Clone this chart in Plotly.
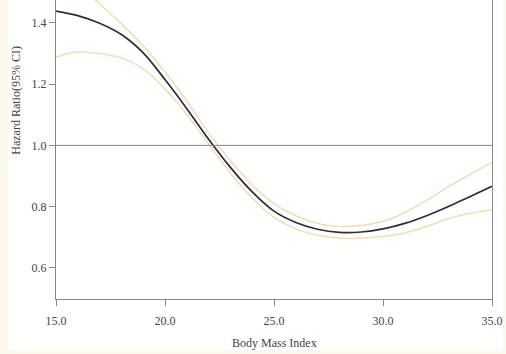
import plotly.graph_objects as go

bmi = [15, 16, 17, 18, 19, 20, 21, 22, 23, 24, 25, 26, 27, 28, 29, 30, 31, 32, 33, 34, 35]
hr = [1.439, 1.424, 1.399, 1.362, 1.302, 1.215, 1.12, 1.02, 0.928, 0.848, 0.785, 0.748, 0.726,
      0.716, 0.717, 0.727, 0.745, 0.77, 0.80, 0.833, 0.866]
upper = [1.57, 1.52, 1.462, 1.397, 1.325, 1.24, 1.145, 1.04, 0.95, 0.87, 0.81, 0.77, 0.745,
         0.735, 0.738, 0.752, 0.78, 0.82, 0.865, 0.905, 0.944]
lower = [1.289, 1.305, 1.30, 1.285, 1.25, 1.185, 1.10, 1.005, 0.91, 0.828, 0.765, 0.727, 0.706,
         0.697, 0.697, 0.703, 0.714, 0.735, 0.76, 0.778, 0.79]
x_ticks = [15, 20, 25, 30, 35]
y_ticks = [0.6, 0.8, 1.0, 1.2, 1.4]

ci_color = "#f3ddb0"
fig = go.Figure()
fig.add_trace(go.Scatter(x=bmi, y=upper, mode="lines", line=dict(color=ci_color, width=1.5, shape="spline", smoothing=1.0)))
fig.add_trace(go.Scatter(x=bmi, y=lower, mode="lines", line=dict(color=ci_color, width=1.5, shape="spline", smoothing=1.0)))
fig.add_trace(go.Scatter(x=bmi, y=hr, mode="lines", line=dict(color="#2c2c46", width=1.7, shape="spline", smoothing=1.0)))

font = dict(family="Liberation Serif, Times New Roman, serif", size=12, color="#444444")
fig.update_layout(
    width=506, height=354,
    margin=dict(l=56, r=14, t=0, b=55),
    paper_bgcolor="#fcf9ec",
    plot_bgcolor="white",
    showlegend=False,
    font=font,
    shapes=[
        dict(type="rect", xref="paper", yref="paper", x0=-0.11, x1=1.025, y0=-0.171, y1=1.05,
             fillcolor="white", line=dict(width=0), layer="below"),
        dict(type="line", xref="paper", yref="y", x0=0, x1=1, y0=1.0, y1=1.0,
             line=dict(color="#888888", width=1)),
    ],
    annotations=[
        dict(text="Hazard Ratio(95% CI)", xref="paper", yref="paper", x=-0.092, y=0.666,
             textangle=-90, showarrow=False, xanchor="center", yanchor="middle", font=font),
        dict(text="Body Mass Index", xref="paper", yref="paper", x=0.5, y=-0.147,
             showarrow=False, xanchor="center", yanchor="middle", font=font),
    ],
)
fig.update_xaxes(range=[15, 35], tickvals=x_ticks, ticktext=[f"{v:.1f}" for v in x_ticks],
                 showgrid=False, zeroline=False, showline=True, linecolor="#888888", linewidth=1,
                 ticks="outside", ticklen=6, tickcolor="#888888", mirror=False, ticklabelstandoff=5)
fig.update_yaxes(range=[0.498, 1.475], tickvals=y_ticks, ticktext=[f"{v:.1f}" for v in y_ticks],
                 showgrid=False, zeroline=False, showline=True, linecolor="#888888", linewidth=1,
                 ticks="outside", ticklen=6, tickcolor="#888888", mirror=True)
fig.write_html("out.html")
